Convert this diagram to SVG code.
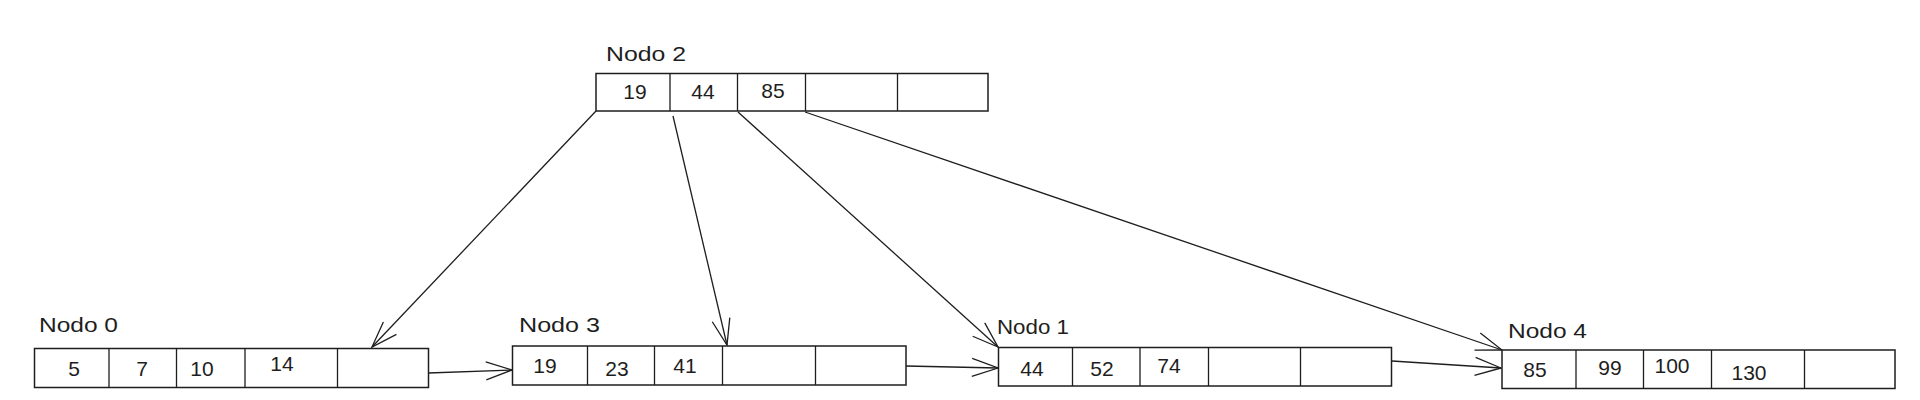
<svg xmlns="http://www.w3.org/2000/svg" width="1920" height="400" viewBox="0 0 1920 400">
<style>
.box{fill:#ffffff;stroke:#1e1e1e;stroke-width:1.5}
.div{stroke:#1e1e1e;stroke-width:1.3;fill:none}
.lbl{font-family:"Liberation Sans",Arial,sans-serif;font-size:21px;fill:#1e1e1e}
.num{font-family:"Liberation Sans",Arial,sans-serif;font-size:21px;fill:#1e1e1e;text-anchor:middle}
.edge{stroke:#1e1e1e;stroke-width:1.3;fill:none;marker-end:url(#arr)}
</style>
<defs>
<marker id="arr" markerUnits="userSpaceOnUse" markerWidth="30" markerHeight="24" viewBox="0 0 30 24" refX="28" refY="12" orient="auto">
<path d="M2,3 L28,12 L2,21" fill="none" stroke="#1e1e1e" stroke-width="1.3"/>
</marker>
</defs>
<rect width="1920" height="400" fill="#ffffff"/>
<g id="connectors">
<line class="edge" x1="596" y1="111" x2="372" y2="347"/>
<line class="edge" x1="673" y1="116" x2="727" y2="345"/>
<line class="edge" x1="738" y1="112" x2="998" y2="347"/>
<line class="edge" x1="805" y1="112" x2="1502" y2="350"/>
<line class="edge" x1="428" y1="373" x2="512" y2="370"/>
<line class="edge" x1="906" y1="366" x2="998" y2="368"/>
<line class="edge" x1="1392" y1="361" x2="1501" y2="368"/>
</g>
<g id="nodo2">
<text class="lbl" x="606" y="61" textLength="80" lengthAdjust="spacingAndGlyphs">Nodo 2</text>
<rect class="box" x="596" y="73.5" width="392" height="37.5"/>
<path class="div" d="M670,73.5V111M737.5,73.5V111M805.5,73.5V111M897.5,73.5V111"/>
<text class="num" x="635" y="99">19</text>
<text class="num" x="703" y="99">44</text>
<text class="num" x="773" y="98">85</text>
</g>
<g id="nodo0">
<text class="lbl" x="39" y="332" textLength="79" lengthAdjust="spacingAndGlyphs">Nodo 0</text>
<rect class="box" x="34.5" y="348.5" width="394" height="39"/>
<path class="div" d="M109,348.5V387.5M176.5,348.5V387.5M245,348.5V387.5M337.5,348.5V387.5"/>
<text class="num" x="74" y="376">5</text>
<text class="num" x="142" y="376">7</text>
<text class="num" x="202" y="376">10</text>
<text class="num" x="282" y="371">14</text>
</g>
<g id="nodo3">
<text class="lbl" x="519" y="332" textLength="81" lengthAdjust="spacingAndGlyphs">Nodo 3</text>
<rect class="box" x="512.5" y="346" width="393.5" height="39"/>
<path class="div" d="M587.5,346V385M654.5,346V385M722.5,346V385M815.5,346V385"/>
<text class="num" x="545" y="373">19</text>
<text class="num" x="617" y="376">23</text>
<text class="num" x="685" y="373">41</text>
</g>
<g id="nodo1">
<text class="lbl" x="997" y="334" textLength="72" lengthAdjust="spacingAndGlyphs">Nodo 1</text>
<rect class="box" x="998.5" y="347.5" width="393" height="38.5"/>
<path class="div" d="M1072.5,347.5V386M1140,347.5V386M1208.5,347.5V386M1300.5,347.5V386"/>
<text class="num" x="1032" y="376">44</text>
<text class="num" x="1102" y="376">52</text>
<text class="num" x="1169" y="373">74</text>
</g>
<g id="nodo4">
<text class="lbl" x="1508" y="338" textLength="79" lengthAdjust="spacingAndGlyphs">Nodo 4</text>
<rect class="box" x="1502" y="350" width="393" height="38.5"/>
<path class="div" d="M1576,350V388.5M1643.5,350V388.5M1711.5,350V388.5M1804.5,350V388.5"/>
<text class="num" x="1535" y="377">85</text>
<text class="num" x="1610" y="375">99</text>
<text class="num" x="1672" y="373">100</text>
<text class="num" x="1749" y="380">130</text>
</g>
</svg>
